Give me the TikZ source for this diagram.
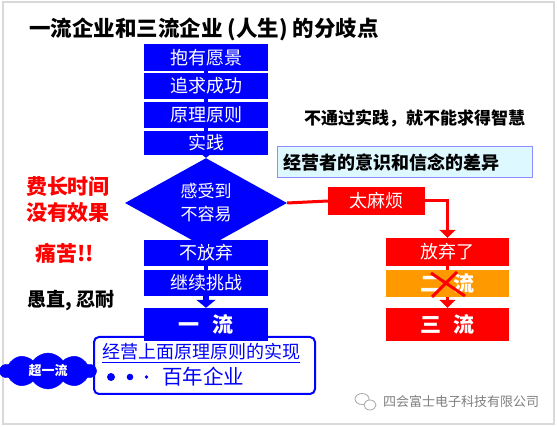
\documentclass[tikz,border=0pt]{standalone}
\usepackage{fontspec}
\setmainfont{Noto Sans CJK SC}
\usetikzlibrary{shapes.geometric,shapes.symbols,arrows.meta}
\definecolor{fblue}{HTML}{0000FF}
\definecolor{fred}{HTML}{FF0000}
\definecolor{forange}{HTML}{FF9900}
\definecolor{fcyan}{HTML}{DDF8FF}
\definecolor{fcyanline}{HTML}{8C8CFF}
\definecolor{wmgray}{HTML}{808080}
\newcommand{\fsz}[2]{\fontsize{#1}{#2}\selectfont}
\begin{document}
\begin{tikzpicture}[x=1pt,y=-1pt,
  bluebox/.style={fill=fblue, text=white, minimum width=124pt, inner sep=0pt, font=\fsz{18}{20}},
  redbox/.style={fill=fred, text=white, inner sep=0pt, font=\fsz{18}{20}},
  bluelink/.style={draw=fblue, line width=4pt},
  bluearrow/.style={draw=fblue, line width=6pt, -{Triangle[width=19pt,length=8pt]}},
  redlink/.style={draw=fred, line width=3pt},
  redarrow/.style={draw=fred, line width=3pt, -{Triangle[width=16pt,length=8pt]}},
]
\useasboundingbox (0,0) rectangle (557,427);
\fill[white] (0,0) rectangle (557,427);
\draw[gray!30, line width=1.2pt] (3,2) rectangle (554,424);

% title
\node[anchor=west, font=\bfseries\fsz{21.5}{24}, inner sep=0pt] (title) at (29,29) {一流企业和三流企业 (人生) 的分歧点};

% main blue column
\node[bluebox, minimum height=27pt] (b1) at (206,57.5) {抱有愿景};
\node[bluebox, minimum height=26pt] (b2) at (206,86) {追求成功};
\node[bluebox, minimum height=26pt] (b3) at (206,115) {原理原则};
\node[bluebox, minimum height=24pt] (b4) at (206,143) {实践};
\draw[bluelink] (b1) -- (b2);
\draw[bluelink] (b2) -- (b3);
\draw[bluelink] (b3) -- (b4);

\node[shape=diamond, fill=fblue, text=white, minimum width=162pt, minimum height=68pt,
      inner sep=0pt, align=center, font=\fsz{17}{23}] (dia) at (206,203) {感受到\\不容易};
\draw[bluearrow] (b4) -- (dia);

\node[bluebox, minimum height=26pt] (nf) at (206,253) {不放弃};
\node[bluebox, minimum height=26pt] (jx) at (206,283) {继续挑战};
\draw[bluelink] (dia) -- (nf);
\draw[bluelink] (nf) -- (jx);

% super-first-class box
\node[draw=fblue, line width=2pt, rounded corners=5pt, fill=white,
      minimum width=221pt, minimum height=57pt] (rb) at (204.5,365.5) {};
\node[bluebox, minimum height=33pt, font=\bfseries\fsz{21}{24}] (yl) at (206,324.5) {一\hspace{0.6em}流};
\draw[bluearrow] (jx) -- (yl);
\node[anchor=west, text=fblue, font=\fsz{18}{20}, inner sep=0pt] (rt1) at (102,353) {\underline{经营上面原理原则的实现}};
\fill[fblue] (111,377) circle (4pt) (130,377) circle (3.3pt) (146.5,377) circle (1.8pt);
\node[anchor=west, text=fblue, font=\fsz{20.5}{22}, inner sep=0pt] (rt2) at (162,377) {百年企业};
\node[cloud, cloud puffs=10, cloud puff arc=110, aspect=2.6, fill=fblue, draw=fblue, text=white, minimum width=96pt,
      minimum height=36pt, inner sep=0pt, font=\bfseries\fsz{13}{15}] (cl) at (48,371) {超一流};

% red branch
\node[redbox, minimum width=97pt, minimum height=28pt] (tm) at (376.5,201) {太麻烦};
\node[redbox, minimum width=123pt, minimum height=28pt] (fq) at (447.5,252) {放弃了};
\node[fill=forange, text=white, inner sep=0pt, minimum width=123pt, minimum height=27pt,
      font=\bfseries\fsz{21}{24}] (el) at (447.5,283.5) {二\hspace{0.6em}流};
\node[redbox, minimum width=123pt, minimum height=33pt, font=\bfseries\fsz{21}{24}] (sl) at (447.5,324.5) {三\hspace{0.6em}流};
\draw[redlink] (dia.east) -- (tm.west);
\draw[redarrow] (tm.east) -| (fq.north);
\draw[redlink] (fq) -- (el);
\draw[redarrow] (el) -- (sl);
\draw[fred, line width=3pt] (431,273) -- (465,296) (457,272) -- (432,297);

% side texts
\node[text=fred, font=\bfseries\fsz{21}{26}, align=left, inner sep=0pt] (t1) at (68,200) {费长时间\\没有效果};
\node[text=fred, font=\bfseries\fsz{21}{24}, inner sep=0pt] (t2) at (65,253) {痛苦!!};
\node[font=\bfseries\fsz{19}{22}, inner sep=0pt] (t3) at (71,300) {愚直, 忍耐};
\node[anchor=west, font=\bfseries\fsz{17}{20}, inner sep=0pt] (t4) at (304,118) {不通过实践，就不能求得智慧};
\node[draw=fcyanline, fill=fcyan, line width=1pt, text width=243pt, inner xsep=6pt, inner ysep=0pt,
      minimum height=31pt, align=left, font=\bfseries\fsz{18}{20}] (cy) at (404.5,162.5) {经营者的意识和信念的差异};

% watermark
\draw[wmgray!70, line width=0.8pt] (362,399) ellipse (7pt and 5.5pt);
\draw[wmgray!70, line width=0.8pt, fill=white] (370,405) ellipse (6pt and 5pt);
\node[anchor=west, text=wmgray, font=\fsz{13}{15}, inner sep=0pt] (wm) at (383,402) {四会富士电子科技有限公司};
\end{tikzpicture}
\end{document}
